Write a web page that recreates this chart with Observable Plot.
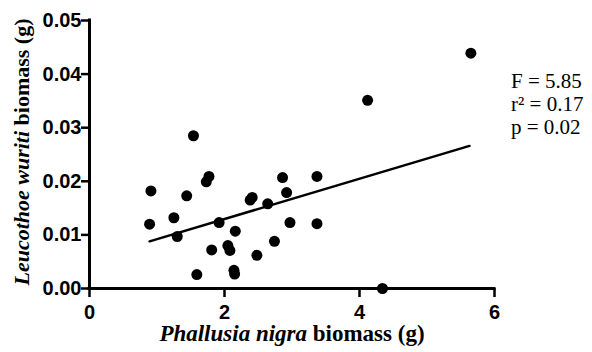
<!DOCTYPE html>
<html>
<head>
<meta charset="utf-8">
<script src="https://cdn.jsdelivr.net/npm/d3@7"></script>
<script src="https://cdn.jsdelivr.net/npm/@observablehq/plot@0.6"></script>
<style>
  html, body { margin: 0; padding: 0; background: #fff; }
  #chart { width: 592px; height: 352px; }
</style>
</head>
<body>
<div id="chart"></div>
<script>
// Phallusia nigra biomass (g)
const xVals = [0.91, 0.89, 1.25, 1.30, 1.44, 1.54, 1.59, 1.73, 1.77, 1.81, 1.92, 2.05, 2.08, 2.16, 2.14, 2.15, 2.38, 2.41, 2.48, 2.64, 2.74, 2.86, 2.92, 2.97, 3.37, 3.37, 4.12, 4.34, 5.65];
// Leucothoe wuriti biomass (g)
const yVals = [0.0182, 0.0120, 0.0132, 0.0097, 0.0173, 0.0285, 0.0026, 0.0199, 0.0209, 0.0072, 0.0123, 0.0080, 0.0071, 0.0107, 0.0034, 0.0027, 0.0165, 0.0170, 0.0062, 0.0158, 0.0088, 0.0207, 0.0179, 0.0123, 0.0209, 0.0121, 0.0351, 0.0000, 0.0439];
// regression line end points
const fitX = [0.89, 5.63];
const fitY = [0.0088, 0.0266];
const xTicks = [0, 2, 4, 6];
const yTicks = [0, 0.01, 0.02, 0.03, 0.04, 0.05];
const statLines = ["F = 5.85", "r\u00B2 = 0.17", "p = 0.02"];

const points = xVals.map((x, i) => ({x, y: yVals[i]}));
const fit = fitX.map((x, i) => ({x, y: fitY[i]}));

const plot = Plot.plot({
  width: 592,
  height: 352,
  marginLeft: 89,
  marginRight: 98,
  marginTop: 20,
  marginBottom: 64,
  style: {fontFamily: "'Liberation Sans', Arial, sans-serif", fontWeight: "bold", fontSize: "20px", color: "#000", background: "#fff"},
  x: {domain: [0, 6], label: null},
  y: {domain: [0, 0.05], label: null},
  marks: [
    Plot.axisX({ticks: xTicks, tickSize: 9, tickPadding: 7, strokeWidth: 2.5, tickFormat: d3.format("d"), label: null}),
    Plot.axisY({ticks: yTicks, tickSize: 8, tickPadding: 0, strokeWidth: 2.5, tickFormat: d3.format(".2f"), label: null, style: {letterSpacing: "-0.5px"}}),
    Plot.ruleX([0], {strokeWidth: 3, strokeLinecap: "square"}),
    Plot.ruleY([0], {strokeWidth: 3, strokeLinecap: "square"}),
    Plot.line(fit, {x: "x", y: "y", strokeWidth: 2.5, stroke: "#000"}),
    Plot.dot(points, {x: "x", y: "y", r: 5.5, fill: "#000", stroke: "none"})
  ]
});
document.getElementById("chart").append(plot);

const svg = d3.select(plot);
const serif = "'Liberation Serif', 'Times New Roman', serif";

// y axis label
const yl = svg.append("text")
  .attr("transform", "translate(29,152) rotate(-90)")
  .attr("text-anchor", "middle")
  .attr("font-family", serif)
  .attr("font-size", 22)
  .attr("fill", "#000");
yl.append("tspan").attr("font-style", "italic").attr("font-weight", "bold").text("Leucothoe wuriti");
yl.append("tspan").attr("font-weight", "bold").text(" biomass (g)");

// x axis label
const xl = svg.append("text")
  .attr("x", 292).attr("y", 341)
  .attr("text-anchor", "middle")
  .attr("font-family", serif)
  .attr("font-size", 23)
  .attr("fill", "#000");
xl.append("tspan").attr("font-style", "italic").attr("font-weight", "bold").text("Phallusia nigra");
xl.append("tspan").attr("font-weight", "bold").text(" biomass (g)");

// statistics
svg.append("g")
  .attr("font-family", serif)
  .attr("font-size", 21)
  .attr("font-weight", "normal")
  .attr("text-anchor", "start")
  .attr("fill", "#000")
  .selectAll("text")
  .data(statLines)
  .join("text")
  .attr("x", 511)
  .attr("y", (d, i) => 88 + i * 23)
  .text(d => d);
</script>
</body>
</html>
